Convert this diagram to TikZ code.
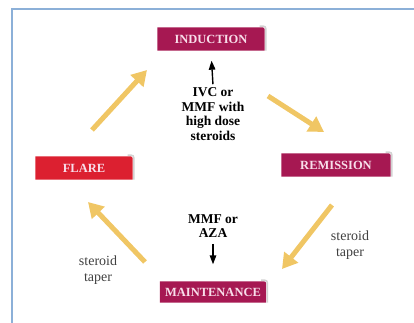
\documentclass[tikz,border=0pt]{standalone}
\usepackage{fontspec}
\setmainfont{Liberation Serif}
\usetikzlibrary{positioning,arrows.meta,backgrounds}
\definecolor{phasecol}{RGB}{166,24,82}
\definecolor{flarecol}{RGB}{220,32,48}
\definecolor{arrowcol}{RGB}{240,198,100}
\definecolor{framecol}{RGB}{140,176,216}
\definecolor{labelcol}{RGB}{248,222,234}

\begin{document}
\begin{tikzpicture}[x=1pt,y=-1pt,
    phase/.style={text=labelcol,font=\fontsize{12.5}{14}\selectfont\bfseries,minimum height=23pt,inner sep=0pt},
    drug/.style={font=\fontsize{13.5}{14.7}\selectfont\bfseries,align=center,inner sep=2pt},
    taper/.style={font=\fontsize{14}{15.5}\selectfont,text=black!75,align=center},
    cyc/.style={arrowcol,line width=5pt,-{Triangle[width=17pt,length=15pt]}},
    drugarrow/.style={black,line width=1.4pt,-{Triangle[length=9pt,width=6.5pt]}}]
    \useasboundingbox (0,0) rectangle (414,323);
    \draw[framecol,line width=1.5pt] (12,323) -- (12,9) -- (414,9);
    % the four phases
    \node[phase,minimum width=107pt] (ind) at (211,39) {INDUCTION};
    \node[phase,minimum width=109pt] (rem) at (336,165) {REMISSION};
    \node[phase,minimum width=106pt,minimum height=21pt] (mnt) at (213,292) {MAINTENANCE};
    \node[phase,minimum width=97pt] (flr) at (84,168) {FLARE};
    \begin{scope}[on background layer]
        \foreach \n/\c in {ind/phasecol,rem/phasecol,mnt/phasecol,flr/flarecol} {
            \draw[gray!35,line width=1.5pt] ([xshift=-5pt,yshift=1.2pt]\n.north east) .. controls ([xshift=1.2pt,yshift=1.2pt]\n.north east) .. ([xshift=1.2pt,yshift=-5pt]\n.north east) -- ([xshift=1.2pt]\n.south east);
            \fill[\c] (\n.south west) -- (\n.north west) -- ([xshift=-5pt]\n.north east) .. controls (\n.north east) .. ([yshift=-5pt]\n.north east) -- (\n.south east) -- cycle;
        }
    \end{scope}
    % treatments
    \node[drug] (ivc) at (213,114) {IVC or\\MMF with\\high dose\\steroids};
    \node[drug] (aza) at (213,226) {MMF or\\AZA};
    \draw[drugarrow,shorten <=1pt,shorten >=10pt] (ivc.north) -- (ind.south);
    \draw[drugarrow,shorten <=4pt,shorten >=17pt] (aza.south) -- (mnt.north);
    \node[taper] (tpr) at (350,245) {steroid\\taper};
    \node[taper] (tpl) at (98,270) {steroid\\taper};
    % the cycle
    \coordinate (a1s) at (92,130);  \coordinate (a1e) at (147,70);
    \coordinate (a2s) at (268,96);  \coordinate (a2e) at (324,132);
    \coordinate (a3s) at (332,205); \coordinate (a3e) at (282,269);
    \coordinate (a4s) at (145,262); \coordinate (a4e) at (88,202);
    \draw[cyc] (a1s) -- (a1e);
    \draw[cyc] (a2s) -- (a2e);
    \draw[cyc] (a3s) -- (a3e);
    \draw[cyc] (a4s) -- (a4e);
\end{tikzpicture}
\end{document}
